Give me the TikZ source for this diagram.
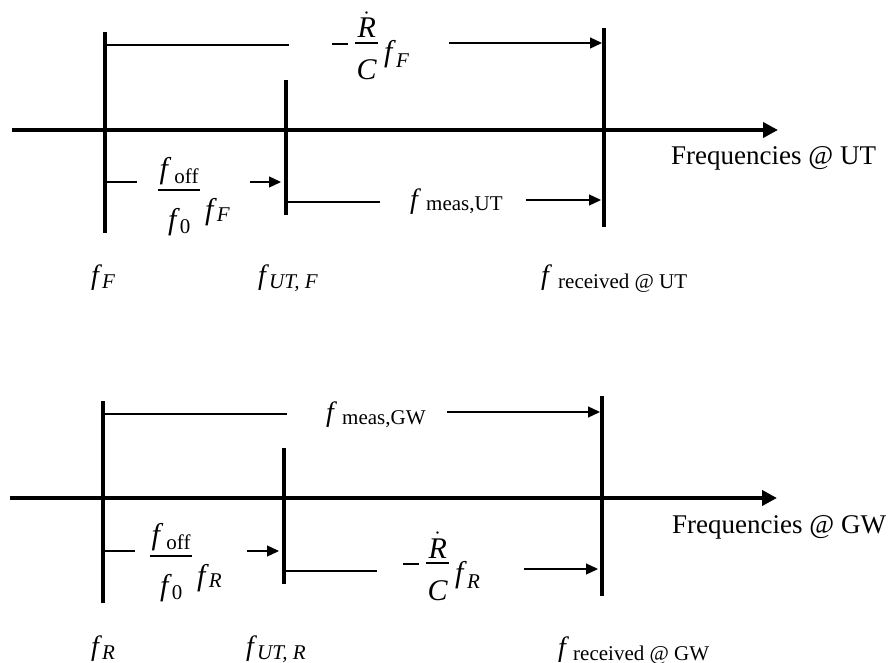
\documentclass[tikz,border=0pt]{standalone}
\usepackage{fix-cm}
\usepackage{fontspec}
\setmainfont{Liberation Serif}
\usetikzlibrary{arrows.meta}
% italic f
\newcommand{\F}{\textit{f}}
% lowered subscript: optional raise, text
\newcommand{\Sb}[2][-4pt]{\raisebox{#1}{\fontsize{21}{21}\selectfont #2}}
% fraction: #1 bar centre above baseline, #2 numerator, #3 num baseline above bar,
%           #4 denominator, #5 den baseline below bar
\newcommand{\Frac}[5]{\raisebox{\dimexpr #1-#5\relax}{\vbox{\offinterlineskip
  \halign{\hfil\hskip1.5pt##\hskip1.5pt\hfil\cr
  #2\rule[\dimexpr -#3+0.6pt\relax]{0pt}{\dimexpr #3-0.6pt\relax}\cr
  \noalign{\hrule height 1.2pt}
  \rule{0pt}{\dimexpr #5-0.6pt\relax}#4\cr}}}}
\newcommand{\Rdot}{$\dot{\mbox{\itshape R}}$}
\newcommand{\Minus}{\rule[17.3pt]{16pt}{1.5pt}}
\tikzset{
  thickline/.style={line width=4pt},
  thinline/.style={line width=1.3pt},
  medline/.style={line width=2pt},
  axisarrow/.style={line width=4pt,-{Triangle[length=15pt,width=15pt]}},
  arr/.style={line width=1.3pt,-{Triangle[length=12pt,width=11pt]}},
  lab/.style={inner sep=0pt, anchor=base west, font=\fontsize{28}{32}\selectfont},
  flab/.style={inner sep=0pt, anchor=base west, font=\fontsize{30}{34}\selectfont},
  axlab/.style={inner sep=0pt, anchor=base west, font=\fontsize{27}{32}\selectfont}
}
\begin{document}
\begin{tikzpicture}[x=1pt,y=-1pt]
\useasboundingbox (0,0) rectangle (888,663);
% ---------- top panel ----------
\coordinate (axL1) at (12,130); \coordinate (axR1) at (778,130);
\draw[axisarrow] (axL1) -- (axR1);
\coordinate (v1t) at (105,32);  \coordinate (v1b) at (105,233);
\coordinate (v2t) at (286,80);  \coordinate (v2b) at (286,215);
\coordinate (v3t) at (604,28);  \coordinate (v3b) at (604,227);
\draw[thickline] (v1t) -- (v1b);
\draw[thickline] (v2t) -- (v2b);
\draw[thickline] (v3t) -- (v3b);
\coordinate (b1a) at (105,45); \coordinate (b1b) at (289,45);
\draw[thinline] (b1a) -- (b1b);
\node[flab] (rc1) at (332,62) {\Minus\hspace{7pt}\Frac{19pt}{\Rdot}{5pt}{\itshape C}{37pt}\hspace{6pt}\F\Sb[-6pt]{\itshape F}};
\coordinate (a1s) at (449,43); \coordinate (a1e) at (602,43);
\draw[arr] (a1s) -- (a1e);
\coordinate (c1a) at (105,182); \coordinate (c1b) at (137,182);
\draw[medline] (c1a) -- (c1b);
\node[flab] (off1) at (158,219) {\Frac{29pt}{\F\hspace{3pt}\Sb[-5pt]{off}}{12pt}{\F\Sb[-4pt]{0}}{39pt}\hspace{5pt}\F\Sb[-2pt]{\itshape F}};
\coordinate (a2s) at (250,182); \coordinate (a2e) at (281,182);
\draw[arr] (a2s) -- (a2e);
\coordinate (d1a) at (286,202); \coordinate (d1b) at (380,202);
\draw[medline] (d1a) -- (d1b);
\node[lab] (meas1) at (410,208) {\F\hspace{5pt}\Sb[-2pt]{meas,UT}};
\coordinate (a3s) at (526,200); \coordinate (a3e) at (601,200);
\draw[arr] (a3s) -- (a3e);
\node[lab] (fF) at (91,284) {\F\Sb{\itshape F}};
\node[lab] (fUTF) at (258,284) {\F\Sb{\itshape UT, F}};
\node[lab] (frec1) at (541,284) {\F\hspace{6pt}\Sb{received @ UT}};
\node[axlab] (freq1) at (671,165) {Frequencies @ UT};
% ---------- bottom panel ----------
\coordinate (axL2) at (10,498); \coordinate (axR2) at (777,498);
\draw[axisarrow] (axL2) -- (axR2);
\coordinate (w1t) at (103,401);  \coordinate (w1b) at (103,603);
\coordinate (w2t) at (284,448);  \coordinate (w2b) at (284,584);
\coordinate (w3t) at (602,396);  \coordinate (w3b) at (602,596);
\draw[thickline] (w1t) -- (w1b);
\draw[thickline] (w2t) -- (w2b);
\draw[thickline] (w3t) -- (w3b);
\coordinate (b2a) at (103,414); \coordinate (b2b) at (287,414);
\draw[thinline] (b2a) -- (b2b);
\node[lab] (meas2) at (326,421) {\F\hspace{5pt}\Sb[-3pt]{meas,GW}};
\coordinate (e1s) at (447,412); \coordinate (e1e) at (600,412);
\draw[arr] (e1s) -- (e1e);
\coordinate (c2a) at (103,551); \coordinate (c2b) at (135,551);
\draw[medline] (c2a) -- (c2b);
\node[flab] (off2) at (150,585) {\Frac{29pt}{\F\hspace{3pt}\Sb[-5pt]{off}}{12pt}{\F\Sb[-4pt]{0}}{39pt}\hspace{5pt}\F\Sb[-2pt]{\itshape R}};
\coordinate (e2s) at (247,551); \coordinate (e2e) at (279,551);
\draw[arr] (e2s) -- (e2e);
\coordinate (d2a) at (284,571); \coordinate (d2b) at (377,571);
\draw[medline] (d2a) -- (d2b);
\node[flab] (rc2) at (403,582) {\Minus\hspace{7pt}\Frac{19pt}{\Rdot}{5pt}{\itshape C}{37pt}\hspace{6pt}\F\Sb[-6pt]{\itshape R}};
\coordinate (e3s) at (524,569); \coordinate (e3e) at (598,569);
\draw[arr] (e3s) -- (e3e);
\node[lab] (fR) at (91,655) {\F\Sb{\itshape R}};
\node[lab] (fUTR) at (246,655) {\F\Sb{\itshape UT, R}};
\node[lab] (frec2) at (558,656) {\F\hspace{4pt}\Sb{received @ GW}};
\node[axlab] (freq2) at (672,533) {Frequencies @ GW};
\end{tikzpicture}
\end{document}
